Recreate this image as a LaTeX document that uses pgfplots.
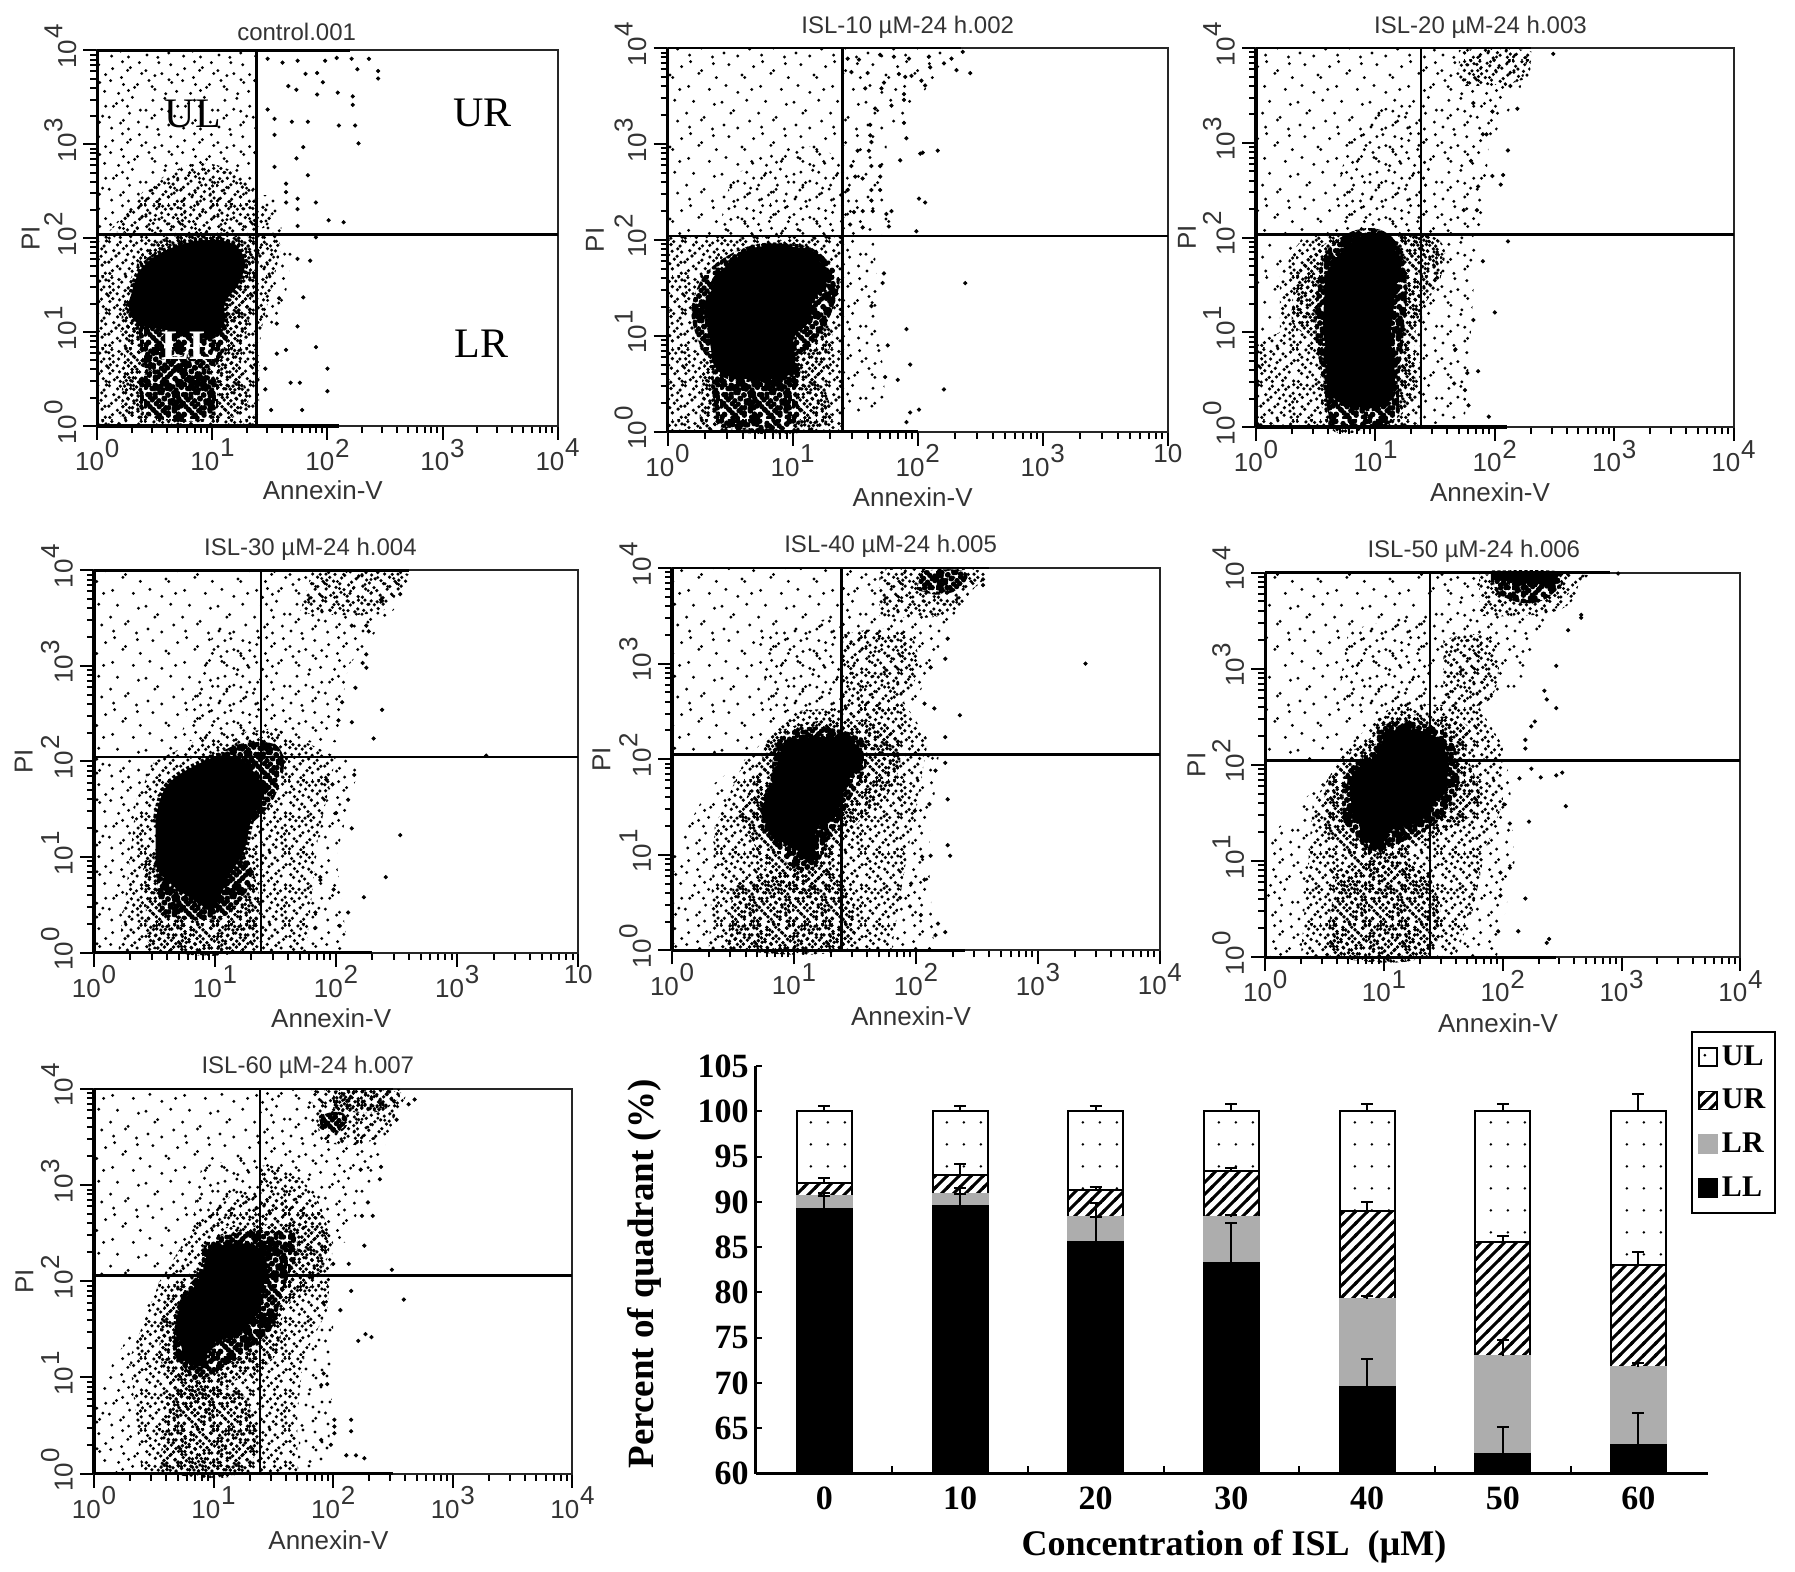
\documentclass[border=0pt]{standalone}
\usepackage{fontspec}
\usepackage{pgfplots}
\pgfplotsset{compat=1.18}
\usetikzlibrary{patterns}
\setmainfont{Liberation Sans}
\newfontfamily\tms{Liberation Serif}
% ---------- speckle textures for the zones too dense to list dot by dot
\def\qa#1#2{\pgfpathcircle{\pgfpoint{#1pt}{#2pt}}{\dr}}
\def\qb#1#2{\pgfpathcircle{\pgfpoint{18pt+#2pt}{#1pt}}{\dr}}
\def\qc#1#2{\pgfpathcircle{\pgfpoint{18pt-#1pt}{18pt+#2pt}}{\dr}}
\def\qd#1#2{\pgfpathcircle{\pgfpoint{36pt-#2pt}{36pt-#1pt}}{\dr}}
\def\qe#1#2{\pgfpathcircle{\pgfpoint{#2pt}{#1pt}}{\dr}}
\def\qf#1#2{\pgfpathcircle{\pgfpoint{18pt+#1pt}{#2pt}}{\dr}}
\def\qg#1#2{\pgfpathcircle{\pgfpoint{18pt-#2pt}{18pt+#1pt}}{\dr}}
\def\qh#1#2{\pgfpathcircle{\pgfpoint{36pt-#1pt}{36pt-#2pt}}{\dr}}
\def\listB#1{#1{0.8}{1.1}#1{2.2}{2.4}#1{6.5}{0.6}#1{7.9}{1.9}#1{12.3}{3.1}#1{16.8}{0.9}%
#1{4.4}{4.9}#1{3.1}{6.2}#1{9.6}{4.2}#1{11.0}{5.7}#1{15.2}{5.0}#1{16.6}{6.4}%
#1{0.5}{8.8}#1{6.2}{7.7}#1{7.5}{9.2}#1{13.3}{8.0}#1{14.7}{9.5}#1{10.4}{10.1}%
#1{3.2}{10.9}#1{1.9}{12.3}#1{5.7}{12.5}#1{9.1}{13.2}#1{12.2}{12.0}#1{17.0}{11.6}%
#1{4.0}{15.3}#1{0.9}{15.9}#1{7.2}{15.1}#1{8.6}{16.6}#1{11.6}{15.4}#1{13.0}{16.9}#1{16.2}{14.6}#1{15.0}{13.2}%
#1{2.5}{17.4}#1{5.6}{17.0}#1{17.4}{17.2}#1{10.2}{17.6}}
\def\listC#1{#1{1.5}{2}#1{7}{0.8}#1{12.5}{3}#1{13.9}{4.4}#1{4}{6.5}#1{5.4}{7.9}#1{15.5}{7.5}#1{1}{10.5}#1{9}{11}#1{12.5}{10}#1{17}{12.5}#1{4.5}{15.5}#1{10.5}{16.5}}
\def\listD#1{#1{2}{3}#1{9}{1.5}#1{15}{5}#1{5.5}{9}#1{6.9}{10.3}#1{1}{14.5}#1{13.5}{15.5}}
\def\fourB{\listB\qa\listB\qb\listB\qc\listB\qd}
\def\fourS{\listB\qe\listB\qf\listB\qg\listB\qh}
\pgfdeclarepatternformonly{spX}{\pgfqpoint{0pt}{0pt}}{\pgfqpoint{36pt}{36pt}}{\pgfqpoint{36pt}{36pt}}{\def\dr{1.35pt}\fourB\pgfusepath{fill}}
\pgfdeclarepatternformonly{spY}{\pgfqpoint{0pt}{0pt}}{\pgfqpoint{36pt}{36pt}}{\pgfqpoint{36pt}{36pt}}{\def\dr{1.35pt}\fourS\pgfusepath{fill}}
\pgfdeclarepatternformonly{spS}{\pgfqpoint{0pt}{0pt}}{\pgfqpoint{36pt}{36pt}}{\pgfqpoint{36pt}{36pt}}{\def\dr{0.95pt}\fourS\pgfusepath{fill}}
\pgfdeclarepatternformonly{spB}{\pgfqpoint{0pt}{0pt}}{\pgfqpoint{36pt}{36pt}}{\pgfqpoint{36pt}{36pt}}{\def\dr{0.9pt}\fourB\pgfusepath{fill}}
\pgfdeclarepatternformonly{spC}{\pgfqpoint{0pt}{0pt}}{\pgfqpoint{36pt}{36pt}}{\pgfqpoint{36pt}{36pt}}{\def\dr{0.82pt}\listC\qa\listC\qb\listC\qc\listC\qd\pgfusepath{fill}}
\pgfdeclarepatternformonly{spD}{\pgfqpoint{0pt}{0pt}}{\pgfqpoint{36pt}{36pt}}{\pgfqpoint{36pt}{36pt}}{\def\dr{0.82pt}\listD\qa\listD\qb\listD\qc\listD\qd\pgfusepath{fill}}
% bar fills
\pgfdeclarepatternformonly{barhatch}{\pgfqpoint{-1pt}{-1pt}}{\pgfqpoint{7pt}{7pt}}{\pgfqpoint{6pt}{6pt}}{\pgfsetlinewidth{1.5pt}\pgfpathmoveto{\pgfqpoint{-1pt}{-1pt}}\pgfpathlineto{\pgfqpoint{7pt}{7pt}}\pgfusepath{stroke}}
\pgfdeclarepatternformonly{bardots}{\pgfqpoint{0pt}{0pt}}{\pgfqpoint{8.6pt}{11pt}}{\pgfqpoint{8.6pt}{11pt}}{\pgfpathcircle{\pgfqpoint{1.5pt}{5pt}}{0.75pt}\pgfusepath{fill}}
\newcommand{\tl}[1]{10\kern.03em\raisebox{.52em}{#1}}
\newcommand{\reg}[2]{\addplot[draw=none,pattern=#1,forget plot] coordinates {#2} -- cycle;}
\newcommand{\sreg}[2]{\addplot[smooth,tension=.8,draw=none,pattern=#1,forget plot] coordinates {#2};}
\newcommand{\rA}[1]{\sreg{spB}{#1}\sreg{spS}{#1}}
\newcommand{\rE}[1]{\sreg{spX}{#1}\sreg{spY}{#1}}
\newcommand{\blob}[1]{\addplot[smooth,tension=.7,fill=black,draw=black,line width=3pt,dash pattern=on 1.6pt off 1.1pt,forget plot] coordinates {#1};}
\newcommand{\pts}[1]{\addplot[only marks,mark=*,mark size=0.85pt,black,forget plot] coordinates {#1};}
\newcommand{\gate}[2]{\addplot[black,line width=1.3pt,forget plot] coordinates {(#1,0)(#1,4)};
  \addplot[black,line width=1.3pt,forget plot] coordinates {(0,#2)(4,#2)};}
\newcommand{\pile}[2]{\addplot[black,line width=1.7pt,forget plot] coordinates {(0,0)(0,4)};
  \addplot[black,line width=1.6pt,forget plot] coordinates {(0,0)(#1,0)};
  \addplot[black,line width=1.3pt,forget plot] coordinates {(0,4)(#2,4)};}
\pgfplotsset{
 fcs/.style n args={5}{
  scale only axis, clip=false,
  at={({#1*0.5725pt},{-#4*0.5725pt})}, anchor=south west,
  width={(#2-#1)*0.5725pt}, height={(#4-#3)*0.5725pt},
  xmin=0,xmax=4,ymin=0,ymax=4,
  xtick={0,1,2,3,4}, ytick={0,1,2,3,4},
  xticklabels={\tl{0},\tl{1},\tl{2},\tl{3},\tl{4}},
  yticklabels={\tl{0},\tl{1},\tl{2},\tl{3},\tl{4}},
  minor xtick={0.301,0.477,0.602,0.699,0.778,0.845,0.903,0.954,1.301,1.477,1.602,1.699,1.778,1.845,1.903,1.954,2.301,2.477,2.602,2.699,2.778,2.845,2.903,2.954,3.301,3.477,3.602,3.699,3.778,3.845,3.903,3.954},
  minor ytick={0.301,0.477,0.602,0.699,0.778,0.845,0.903,0.954,1.301,1.477,1.602,1.699,1.778,1.845,1.903,1.954,2.301,2.477,2.602,2.699,2.778,2.845,2.903,2.954,3.301,3.477,3.602,3.699,3.778,3.845,3.903,3.954},
  xtick pos=bottom, ytick pos=left, tick align=outside,
  major tick length=7pt, minor tick length=3.5pt,
  tick style={black,line width=1pt}, minor tick style={black,line width=1pt},
  axis line style={black!85,line width=1pt},
  xticklabel style={font=\fontsize{13}{15}\selectfont,text=black!80,yshift=4pt},
  yticklabel style={font=\fontsize{13}{15}\selectfont,text=black!80,rotate=90,anchor=south,xshift=2pt},
  xlabel={Annexin-V}, ylabel={PI},
  xlabel style={at={(axis description cs:0.49,-0.172)},anchor=center,font=\fontsize{13}{15}\selectfont,text=black!80},
  ylabel style={at={(axis description cs:-0.145,0.5)},anchor=center,font=\fontsize{13}{15}\selectfont,text=black!80},
  title style={at={(axis description cs:#5,1)},anchor=south,font=\fontsize{12}{14}\selectfont,text=black!80,yshift=-4.5pt},
 },
 tenlab/.style={xticklabels={\tl{0},\tl{1},\tl{2},\tl{3},10}},
}
\begin{document}
\begin{tikzpicture}
\path[use as bounding box] (0,0) rectangle (897.5pt,-785.5pt);
%% ---------------- control
\begin{axis}[fcs={85}{487}{44}{372}{0.433},title={control.001}]
\reg{spC}{(0,2.05)(1.38,2.05)(1.38,4)(0,4)}
\sreg{spB}{(.1,2.07)(1.36,2.07)(1.36,2.5)(.9,2.8)(.4,2.5)}
\reg{spB}{(0,0)(1.40,0)(1.42,1)(1.6,1.9)(1.55,2.05)(0,2.05)}
\rA{(.2,.1)(1.2,.1)(1.25,.7)(1.3,1.3)(.9,.9)(.25,1.1)}
\rE{(.38,.15)(.6,.06)(.95,.08)(1.05,.3)(.95,.6)(.6,.65)(.36,.5)}
\rA{(0.2,1)(0.3,1.6)(0.6,2)(1.3,2)(1.38,1.6)(1.2,1.1)(0.8,0.9)}
\rE{(.4,.62)(.8,.6)(1.05,.7)(1.1,1.1)(.7,1.2)(.35,1.1)}
\reg{spC}{(1.38,2.05)(1.6,2.05)(1.6,2.45)(1.38,2.45)}
\reg{spC}{(1.38,1)(1.6,1.1)(1.7,1.9)(1.6,2.05)(1.38,2.05)}
\blob{(.30,1.42)(.38,1.67)(.58,1.86)(.88,1.97)(1.15,1.95)(1.28,1.77)(1.23,1.52)(1.11,1.31)(1.10,1.09)(.95,.95)(.61,1.02)(.35,1.09)(.27,1.31)}
\pts{(2.44,3.78)(2.44,3.70)(2.36,3.91)(2.26,3.80)(2.21,3.91)(2.08,3.92)(1.98,3.89)(1.91,3.76)(1.96,3.66)(1.81,3.75)(1.74,3.89)(1.61,3.87)(1.48,3.91)(1.66,3.62)(1.73,3.58)(1.91,3.53)(2.09,3.55)(2.22,3.51)(2.22,3.42)(2.10,3.2)(2.24,3.2)(2.27,3.01)(1.83,3.24)(1.69,3.24)(1.54,3.27)(1.48,3.37)(1.54,3.1)(1.79,2.97)(1.73,2.85)(1.83,2.67)(1.54,2.76)(1.64,2.58)(1.64,2.49)(1.64,2.38)(1.74,2.42)(1.74,2.31)(1.90,2.38)(2.01,2.19)(2.14,2.17)(1.74,2.13)(1.90,2.01)(1.85,1.76)(1.74,1.78)(1.79,1.37)(1.74,1.06)(1.9,.84)(2.0,.61)(2.0,.37)(1.76,.46)(1.68,.46)(1.78,.17)(1.51,.17)(1.46,.39)(1.46,.61)(1.64,.81)(1.56,.77)(1.56,1.09)(1.58,1.36)}
\gate{1.383}{2.037}
\pile{2.1}{2.2}
\node[font=\tms\fontsize{21}{24}\selectfont] at (axis cs:0.83,3.32) {UL};
\node[font=\tms\fontsize{21}{24}\selectfont] at (axis cs:3.35,3.33) {UR};
\node[font=\tms\bfseries\fontsize{21}{24}\selectfont,text=white] at (axis cs:0.80,0.85) {LL};
\node[font=\tms\fontsize{21}{24}\selectfont] at (axis cs:3.34,0.88) {LR};
\end{axis}
%% ---------------- 10
\begin{axis}[fcs={583}{1020}{42}{377}{0.48},tenlab,title={ISL-10 µM-24 h.002}]
\reg{spD}{(0,2.04)(1.4,2.04)(1.4,4)(0,4)}
\sreg{spC}{(.4,2.06)(1.38,2.06)(1.38,2.8)(.9,2.95)(.5,2.6)}
\reg{spB}{(0,0)(1.4,0)(1.4,2.04)(0,2.04)}
\rA{(.25,.03)(1.2,.03)(1.25,.6)(1.3,1.1)(1.0,.95)(.3,.95)}
\rE{(.4,.05)(1.0,.05)(1.03,.4)(1,.72)(.45,.72)(.36,.4)}
\rE{(.3,.8)(.2,1.35)(.5,1.85)(1,1.95)(1.3,1.75)(1.35,1.4)(1.1,.85)(.7,.7)}
\reg{spC}{(1.4,.2)(1.75,.2)(1.7,1)(1.65,2.04)(1.4,2.04)}
\reg{spD}{(1.4,2.04)(1.8,2.04)(1.75,3)(2.3,4)(1.4,4)}
\blob{(.32,1.09)(.37,1.55)(.58,1.84)(.74,1.93)(.98,1.93)(1.17,1.86)(1.27,1.55)(1.17,1.38)(1.12,1.13)(1.01,.98)(.97,.59)(.46,.59)(.35,.84)}
\pts{(2.38,1.55)(1.91,1.07)(1.76,.90)(1.94,.70)(1.74,.57)(1.84,.54)(2.21,.44)(2.01,.23)(1.94,.2)(1.91,.1)(1.73,1.65)(1.72,1.55)(1.63,1.31)(1.99,2.09)(1.77,2.14)(1.79,2.3)(1.75,2.27)(2.06,2.39)(2.01,2.43)(2.16,2.93)(2.02,2.9)(2.04,2.91)(1.86,2.83)(1.91,3.06)(1.89,3.22)(1.79,3.4)(1.66,3.37)(1.89,3.46)(1.89,3.52)(2.06,3.61)(2.03,3.66)(2.42,3.74)(2.31,3.77)(1.90,3.70)(1.85,3.73)(1.95,3.71)(1.73,3.64)(1.71,3.58)(1.58,3.58)(1.60,3.74)(2.36,3.96)(2.21,3.84)(2.27,3.89)(2.09,3.91)(1.93,3.89)(1.81,3.91)(1.70,3.93)(1.53,3.88)(1.44,3.89)(1.47,3.75)(2.1,3.8)(1.62,3.2)(1.62,3.09)(1.63,3.02)(1.52,2.93)(1.61,2.93)(1.63,2.77)(1.70,2.77)(1.70,2.66)(1.47,2.77)(1.50,2.66)(1.56,2.64)(1.63,2.52)(1.44,2.52)(1.7,2.52)(1.63,2.41)(1.49,2.29)(1.56,2.3)(1.64,2.3)(1.46,2.16)(1.56,2.13)}
\gate{1.40}{2.04}
\pile{2.0}{2.35}
\end{axis}
%% ---------------- 20
\begin{axis}[fcs={1097}{1514}{42}{373}{0.47},title={ISL-20 µM-24 h.003}]
\reg{spD}{(0,2.03)(1.38,2.03)(1.38,4)(0,4)}
\sreg{spC}{(.7,2.05)(1.36,2.05)(1.36,3.3)(.9,3.2)(.7,2.6)}
\reg{spB}{(0,0)(1.38,0)(1.4,2.03)(.4,2.03)(.2,1.6)(.2,1)(0,.9)}
\rA{(.3,1.1)(.35,1.6)(.6,1.95)(1,2.01)(1.5,2)(1.55,1.6)(1.35,1.1)(1.3,.3)(1,.02)(.6,.02)(.55,.8)}
\rE{(.62,.04)(1.12,.04)(1.2,.5)(1.2,1.9)(.62,1.9)(.5,.9)}
\reg{spC}{(1.38,0)(1.75,.1)(1.8,1)(1.85,2.03)(1.38,2.03)}
\reg{spD}{(0,.9)(.2,1)(.2,1.6)(.4,2.03)(0,2.03)}
\reg{spC}{(1.38,2.03)(1.9,2.03)(1.95,3)(2.2,3.5)(2.3,4)(1.38,4)}
\sreg{spB}{(1.7,3.6)(2.2,3.65)(2.3,3.85)(2.25,3.98)(1.7,3.98)}
\blob{(.58,1.55)(.64,1.73)(.84,1.98)(1.09,2.01)(1.19,1.73)(1.16,1.36)(1.13,.93)(1.16,.46)(1.03,.21)(.64,.32)(.59,.75)(.56,1.11)}
\pts{(2,1.21)(1.82,1.13)(2.11,1.96)(1.90,1.75)(1.95,.11)(1.86,.59)(1.77,.57)(1.67,.82)(1.66,.46)(1.75,.39)(1.78,.23)(2.11,2.92)(2.07,2.66)(2.05,2.56)(1.98,2.65)(1.93,3.09)(1.90,3.09)(2.19,3.36)(1.98,3.33)(2.13,3.6)(2.49,3.94)(1.82,3.42)(1.86,2.54)(1.8,2.81)(1.74,2.29)(1.85,2.29)}
\gate{1.381}{2.03}
\pile{2.1}{2.3}
\end{axis}
%% ---------------- 30
\begin{axis}[fcs={82}{505}{498}{832}{0.447},tenlab,title={ISL-30 µM-24 h.004}]
\reg{spD}{(0,2.05)(1.38,2.05)(1.38,4)(0,4)}
\reg{spC}{(.7,2.2)(1.38,2.3)(1.38,3.3)(1,3.4)}
\reg{spC}{(0,0)(.2,0)(.3,1)(.35,1.6)(.5,2)(0,2.05)}
\reg{spC}{(1.75,0)(2.1,0)(2,1)(2.2,2)(2,2.05)(1.85,1.2)}
\reg{spB}{(.2,0)(1.75,0)(1.85,1.2)(2,2.05)(1.5,2.35)(.9,2.25)(.5,2)(.35,1.6)(.3,1)}
\rA{(.45,.05)(1.25,.05)(1.3,.9)(.9,1.2)(.4,1)}
\rE{(1.3,1.35)(1.5,1.65)(1.55,2.1)(1.3,2.2)(1.05,2.1)}
\rE{(.55,.4)(1.1,.4)(1.25,1)(.5,1)}
\reg{spC}{(1.38,2.2)(2,2.2)(2.1,3)(2.55,3.7)(2.55,4)(1.38,4)}
\sreg{spB}{(1.7,3.55)(2.3,3.55)(2.5,3.75)(2.55,3.98)(1.8,3.98)}
\blob{(.51,1.36)(.60,1.74)(.89,1.99)(1.11,2.06)(1.30,1.92)(1.40,1.67)(1.30,1.39)(1.24,1.07)(1.11,.79)(.98,.48)(.79,.58)(.60,.76)(.51,.93)}
\pts{(2.38,2.54)(2.31,2.24)(3.24,2.06)(2.53,1.23)(2.41,.79)(2.23,.58)(1.98,.66)(2.10,.42)(2.03,.28)(2.13,1.30)(2.0,1.46)(2.10,1.6)(2.15,1.86)(1.97,1.76)(1.92,1.81)(1.87,.76)(1.87,.79)(1.83,.42)(1.83,.26)(2.13,2.41)(2.05,2.62)(2.02,2.43)(2.16,2.77)(2.25,3.12)(2.25,2.98)(2.22,3.03)(2.27,3.36)(2.25,3.42)(2.13,3.42)(2.53,3.75)(2.38,3.68)}
\gate{1.38}{2.048}
\pile{2.3}{2.6}
\end{axis}
%% ---------------- 40
\begin{axis}[fcs={587}{1013}{496}{830}{0.448},title={ISL-40 µM-24 h.005}]
\reg{spD}{(0,2.05)(1.38,2.05)(1.38,4)(0,4)}
\reg{spC}{(.8,2.5)(1.38,2.5)(1.38,3.5)(.7,3.3)}
\reg{spC}{(0,0)(.3,0)(.35,1.3)(.6,2)(.3,1.7)(0,1)}
\reg{spC}{(1.8,0)(2.15,0)(2.1,1)(2.2,2.2)(2.1,2.2)(1.9,.8)}
\reg{spB}{(.3,0)(1.8,0)(1.9,.8)(2,1.5)(2.1,2.2)(1.9,2.6)(1,2.5)(.6,2)(.35,1.3)}
\rA{(.45,.02)(1.4,.02)(1.4,.7)(1,.85)(.5,.7)}
\rA{(.55,1.4)(.7,1.85)(.9,2.3)(1.6,2.4)(1.85,2.2)(1.8,1.7)(1.5,1.3)(1.35,1)(1.1,.6)(.8,.8)}
\rE{(.72,1.3)(.8,1.75)(.92,2.25)(1.4,2.3)(1.6,2.05)(1.45,1.55)(1.3,1.2)(1.15,.85)(.95,.9)}
\sreg{spB}{(1.38,2.4)(1.9,2.6)(1.95,3.3)(1.4,3.3)}
\reg{spC}{(1.38,2.5)(2,2.6)(2.2,3.2)(2.5,4)(1.38,4)}
\sreg{spB}{(1.7,3.5)(2.2,3.5)(2.45,3.75)(2.5,3.98)(1.7,3.98)}
\rE{(2,3.78)(2.2,3.72)(2.38,3.82)(2.38,3.97)(2.05,3.97)}
\blob{(.72,1.46)(.82,1.74)(.94,2.16)(1.29,2.23)(1.47,2.19)(1.54,1.98)(1.41,1.70)(1.35,1.42)(1.19,1.28)(1.16,.93)(1,1.07)(.82,1.18)}
\pts{(3.39,3)(2.36,2.46)(2.24,2.23)(2.15,2.53)(2.07,2.58)(2.26,3.26)(2.24,3.05)(2.12,2.96)(2.55,3.88)(2.55,3.82)(2.28,.99)(2.26,1.1)(2.12,.99)(2.05,.98)(2.07,.74)(1.96,.7)(1.95,.46)(1.87,.55)(2.24,.19)(2.16,.16)(2.18,.28)(2.04,.37)(2.26,1.58)(2.11,1.53)(1.99,1.46)(2.24,1.96)(2.16,1.88)(2.10,2.04)}
\gate{1.39}{2.048}
\pile{2.4}{2.6}
\end{axis}
%% ---------------- 50
\begin{axis}[fcs={1105}{1520}{500}{836}{0.439},title={ISL-50 µM-24 h.006}]
\reg{spD}{(0,2.05)(1.38,2.05)(1.38,4)(0,4)}
\reg{spC}{(.6,2.6)(1.38,2.6)(1.38,3.6)(.7,3.4)}
\reg{spC}{(0,0)(.3,0)(.4,1.6)(.6,2)(0,1.2)}
\reg{spC}{(1.6,0)(1.95,0)(2.1,1)(2.05,2)(1.85,1.1)}
\reg{spB}{(.3,0)(1.6,0)(1.75,.5)(1.85,1.1)(2,1.6)(2,2.2)(1.8,2.6)(1.1,2.65)(.7,2.2)(.4,1.6)}
\rA{(.5,.02)(1.35,.02)(1.4,.8)(1,1)(.6,.9)}
\rA{(.5,1.3)(.55,1.9)(.9,2.3)(1,2.5)(1.65,2.45)(1.7,2.1)(1.8,1.6)(1.5,1.3)(1.2,1.1)(1,.85)(.75,1)}
\rE{(.66,1.4)(.68,1.9)(.9,2.15)(1,2.42)(1.45,2.38)(1.62,2.05)(1.58,1.62)(1.35,1.32)(1.05,1.15)(.88,1.08)}
\reg{spC}{(1.38,2.6)(1.9,2.6)(2.2,2.9)(2.3,3.4)(2.7,4)(1.38,4)}
\sreg{spB}{(1.5,2.6)(1.9,2.7)(1.9,3.3)(1.5,3.3)}
\sreg{spB}{(1.8,3.55)(2.45,3.6)(2.65,3.9)(2.65,3.98)(1.8,3.98)}
\rE{(1.95,3.78)(2.2,3.68)(2.42,3.78)(2.45,3.95)(1.9,3.95)}
\blob{(.73,1.57)(.73,1.89)(.93,2.10)(1.06,2.35)(1.41,2.31)(1.54,2.03)(1.51,1.79)(1.41,1.57)(1.28,1.40)(1.06,1.33)(.96,1.12)(.83,1.26)}
\blob{(1.9,3.93)(2.3,3.88)(2.45,3.95)(2.4,3.99)(1.9,3.99)}
\pts{(2.97,3.99)(2.66,3.56)(2.66,3.53)(2.55,3.4)(2.45,3.03)(2.35,2.77)(2.37,2.68)(2.45,2.59)(2.27,2.45)(2.24,2.4)(2.53,1.57)(2.22,1.41)(2.06,1.39)(2.01,1.59)(2.06,.93)(1.98,.88)(1.98,.64)(2.19,.61)(1.96,.27)(2.13,.27)(2.37,.15)(2.39,.19)(2.5,1.92)(2.45,1.89)(2.32,1.87)(2.24,1.96)(2.14,1.86)(2.19,2.17)(2.19,2.26)}
\gate{1.388}{2.048}
\pile{2.45}{2.9}
\end{axis}
%% ---------------- 60
\begin{axis}[fcs={82}{500}{951}{1287}{0.447},title={ISL-60 µM-24 h.007}]
\reg{spD}{(0,2.06)(1.38,2.06)(1.38,4)(0,4)}
\reg{spC}{(.8,2.5)(1.38,2.6)(1.38,3.3)(.9,3.2)}
\reg{spC}{(0,0)(.4,0)(.3,1.2)(.55,2)(0,.8)}
\reg{spC}{(1.7,0)(1.95,0)(2,1)(2,1.7)(1.95,1.7)(1.75,1.2)}
\reg{spB}{(.4,0)(1.7,0)(1.7,.6)(1.75,1.2)(1.95,1.7)(2,2.4)(1.9,2.75)(1.2,2.95)(.8,2.5)(.55,2)(.3,1.2)}
\rA{(.55,.02)(1.25,.02)(1.3,.7)(1,.9)(.6,.8)}
\rA{(.55,1.2)(.6,1.8)(.85,2.1)(1,2.45)(1.6,2.6)(1.95,2.45)(1.85,2)(1.6,1.7)(1.5,1.2)(1.1,.9)(.95,.6)(.7,.7)}
\rE{(.66,1.25)(.72,1.8)(.88,2.1)(.98,2.42)(1.45,2.52)(1.7,2.42)(1.58,1.9)(1.45,1.45)(1.1,1.12)(.85,.95)}
\reg{spC}{(1.38,2.7)(2.1,2.4)(2.4,3.3)(2.6,4)(1.38,4)}
\sreg{spB}{(1.38,2.6)(1.9,2.6)(1.7,3.1)(1.38,3.2)}
\sreg{spB}{(1.9,3.45)(2.3,3.45)(2.55,3.8)(2.5,3.98)(1.8,3.98)}
\rE{(1.9,3.58)(2.05,3.55)(2.12,3.66)(2.05,3.76)(1.88,3.72)}
\rA{(2,3.8)(2.3,3.75)(2.5,3.85)(2.5,3.98)(2,3.98)}
\blob{(.69,1.55)(.73,1.76)(.89,2.04)(.98,2.32)(1.27,2.39)(1.44,2.22)(1.40,1.87)(1.31,1.58)(1.18,1.44)(.98,1.34)(.92,1.13)(.76,1.16)}
\pts{(2.59,1.81)(2.49,2.12)(2.26,2.37)(2.40,3.19)(2.39,3.06)(2.33,2.68)(2.24,2.68)(2.29,2.82)(2.23,3.16)(2.68,3.89)(2.63,3.84)(2.53,3.68)(2.32,1.42)(2.27,1.45)(2.21,1.38)(2.15,1.9)(2.06,1.7)(1.92,1.78)(2.01,.56)(2.01,.49)(2.01,.42)(2.15,.56)(2.15,.44)(2.11,.19)(2.19,.19)(2.26,.16)(1.98,.3)(1.9,.35)(1.95,.93)(1.9,.92)(1.92,1.04)(2.13,2.18)(2,2.18)}
\gate{1.388}{2.06}
\pile{2.5}{2.5}
\end{axis}
%% ---------------- stacked bars (cumulative tops, drawn back to front)
\begin{axis}[
 scale only axis,
 at={({660*0.5725pt},{-1287*0.5725pt})}, anchor=south west,
 width={832*0.5725pt}, height={356*0.5725pt},
 xmin=-0.506,xmax=6.515,ymin=60,ymax=105,
 ybar, bar shift=0pt, bar width={48*0.5725pt},
 axis x line*=bottom, axis y line*=left,
 axis line style={-,black,line width=1.3pt},
 xtick={0,1,2,3,4,5,6}, xticklabels={0,10,20,30,40,50,60},
 minor xtick={0.5,1.5,2.5,3.5,4.5,5.5},
 ytick={60,65,...,105},
 major x tick style={draw=none},
 minor tick length=4pt, major tick length=3pt,
 tick align=inside,
 tick style={black,line width=1pt},
 /pgf/number format/assume math mode=true,
 ticklabel style={font=\tms\bfseries\fontsize{17}{19}\selectfont},
 xticklabel style={yshift=-3pt},
 xlabel={Concentration of ISL\ \ (µM)},
 ylabel={Percent of quadrant (\%)},
 xlabel style={at={(axis description cs:0.502,-0.18)},anchor=center,font=\tms\bfseries\fontsize{18}{20}\selectfont},
 ylabel style={at={(axis description cs:-0.117,0.49)},anchor=center,font=\tms\bfseries\fontsize{18.5}{20}\selectfont},
 error bars/error bar style={black,line width=1pt},
 error bars/error mark options={rotate=90,mark size=3pt,line width=1pt,black},
 legend style={at={(0.982,1.087)},anchor=north west,draw=black,line width=1pt,font=\tms\bfseries\fontsize{15}{18}\selectfont,row sep=6.5pt,inner xsep=3pt,inner ysep=5pt},
 legend cell align=left,
 legend image code/.code={\draw[#1,line width=.9pt] (0pt,-4.5pt) rectangle (9pt,4.5pt);},
]
\addplot[fill=white,draw=black,line width=1pt,postaction={pattern=bardots},error bars/.cd,y dir=plus,y explicit]
 coordinates {(0,100) +- (0,.6) (1,100) +- (0,.6) (2,100) +- (0,.6) (3,100) +- (0,.8) (4,100) +- (0,.8) (5,100) +- (0,.8) (6,100) +- (0,1.9)};
\addlegendentry{UL}
\addplot[fill=white,draw=black,line width=1pt,postaction={pattern=barhatch},error bars/.cd,y dir=plus,y explicit]
 coordinates {(0,92.1) +- (0,.5) (1,93) +- (0,1.2) (2,91.3) +- (0,.3) (3,93.4) +- (0,.3) (4,89) +- (0,1) (5,85.6) +- (0,.6) (6,83) +- (0,1.5)};
\addlegendentry{UR}
\addplot[fill=black!32,draw=black!32,line width=1pt,error bars/.cd,y dir=plus,y explicit]
 coordinates {(0,90.6) +- (0,.4) (1,90.9) +- (0,.6) (2,88.3) +- (0,1.6) (3,88.3) +- (0,.2) (4,79.3) +- (0,.3) (5,73) +- (0,1.7) (6,71.8) +- (0,.4)};
\addlegendentry{LR}
\addplot[fill=black,draw=black,line width=1pt,error bars/.cd,y dir=plus,y explicit]
 coordinates {(0,89.2) +- (0,1.4) (1,89.5) +- (0,1.4) (2,85.6) +- (0,2.7) (3,83.3) +- (0,4.4) (4,69.6) +- (0,3.1) (5,62.2) +- (0,3) (6,63.2) +- (0,3.5)};
\addlegendentry{LL}
\end{axis}
\end{tikzpicture}
\end{document}
